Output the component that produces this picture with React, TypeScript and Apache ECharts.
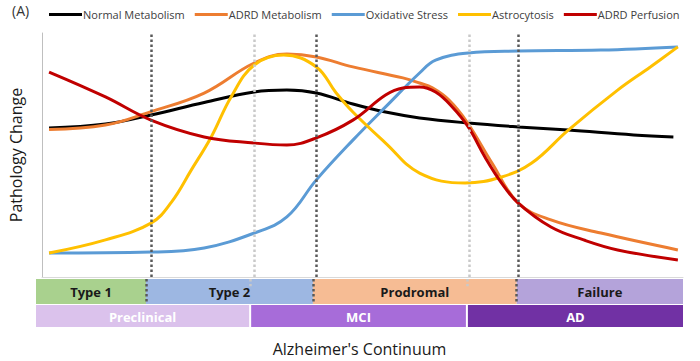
import React, { useEffect, useRef } from "react";
import * as echarts from "echarts";

// ---- Data (x: position along the continuum 0-100, y: pathology change 0-100) ----
const seriesNames = ["Normal Metabolism", "ADRD Metabolism", "Oxidative Stress", "Astrocytosis", "ADRD Perfusion"];
const seriesColors = ["#000000", "#ED7D31", "#5B9BD5", "#FFC000", "#C00000"];

const normalX = [1.1, 9.9, 17.0, 25.3, 33.1, 38.2, 42.8, 48.5, 53.6, 58.9, 66.5, 74.3, 82.1, 92.3, 98.5];
const normalY = [61.1, 62.7, 66.4, 71.5, 75.8, 76.6, 75.4, 70.9, 67.6, 65.2, 63.1, 61.5, 60.2, 58.2, 57.4];

const adrdMetX = [1.1, 9.9, 17.0, 25.3, 33.1, 38.2, 42.8, 48.5, 56.3, 58.9, 60.9, 63.5, 66.3, 70.2, 74.3, 79.4, 87.2, 99.2];
const adrdMetY = [60.5, 62.3, 67.8, 75.4, 87.7, 91.4, 90.2, 86.1, 81.6, 79.5, 77.5, 72.5, 63.5, 46.7, 30.3, 23.4, 18.0, 11.1];

const oxidX = [1.1, 17.0, 25.3, 33.1, 38.2, 42.8, 48.5, 53.6, 58.9, 61.4, 66.5, 74.3, 87.2, 99.2];
const oxidY = [9.8, 10.2, 11.9, 18.0, 24.6, 39.8, 56.1, 69.7, 83.6, 88.9, 91.8, 92.6, 93.0, 94.3];

const astroX = [1.1, 9.9, 17.0, 20.2, 23.3, 26.4, 29.5, 33.1, 37.7, 42.8, 45.9, 48.5, 53.6, 58.9, 66.0, 71.7, 76.4, 82.1, 89.8, 94.9, 99.2];
const astroY = [9.8, 15.2, 22.1, 30.7, 43.9, 57.4, 73.8, 86.9, 91.0, 86.1, 75.4, 67.6, 54.9, 42.6, 38.5, 41.0, 46.7, 60.2, 76.6, 86.1, 94.3];

const perfX = [1.1, 9.9, 17.0, 25.3, 33.1, 38.2, 42.8, 48.5, 53.6, 56.3, 58.9, 61.4, 64.0, 66.5, 69.1, 71.7, 74.3, 79.4, 84.5, 89.8, 99.2];
const perfY = [84.0, 73.8, 64.3, 57.4, 54.9, 54.1, 57.0, 64.3, 74.6, 77.5, 77.9, 75.8, 69.7, 61.5, 49.2, 38.5, 30.3, 20.5, 15.2, 11.1, 7.0];

const stageNames = ["Type 1", "Type 2", "Prodromal", "Failure"];
const stageBounds = [0, 17.0, 42.8, 74.3, 100];
const stageColors = ["#A9D18E", "#9DB7E2", "#F6BC94", "#B4A3DA"];

const clinicalNames = ["Preclinical", "MCI", "AD"];
const clinicalBounds = [0, 33.1, 66.6, 100];
const clinicalColors = ["#DBC2EC", "#A76CD9", "#7131A4"];

const xTitle = "Alzheimer's Continuum";
const yTitle = "Pathology Change";

const zip = (xs: number[], ys: number[]) => xs.map((x, i) => [x, ys[i]]);

export default function App() {
  const ref = useRef<HTMLDivElement>(null);
  useEffect(() => {
    if (!ref.current) return;
    const chart = echarts.init(ref.current, undefined, { renderer: "svg" });
    const font = "'Open Sans', sans-serif";

    const curves = [
      zip(normalX, normalY),
      zip(adrdMetX, adrdMetY),
      zip(oxidX, oxidY),
      zip(astroX, astroY),
      zip(perfX, perfY),
    ];

    // band data: [start, end, rowTop, rowBottom]
    const bandData: any[] = [];
    const bandMeta: { label: string; color: string; text: string; inset: number }[] = [];
    stageNames.forEach((n, i) => {
      bandData.push([stageBounds[i], stageBounds[i + 1], 0, 1.04]);
      bandMeta.push({ label: n, color: stageColors[i], text: "#1a1a1a", inset: 0 });
    });
    clinicalNames.forEach((n, i) => {
      bandData.push([clinicalBounds[i], clinicalBounds[i + 1], 1.08, 2]);
      bandMeta.push({ label: n, color: clinicalColors[i], text: "#ffffff", inset: 1 });
    });

    const darkLines = stageBounds.slice(1, -1);
    const lightLines = clinicalBounds.slice(1, -1);
    const darkStyle = { color: "#595959", width: 2.5, type: [2.5, 2.5] as any };
    const lightStyle = { color: "#c9c9c9", width: 2.5, type: [2.5, 2.5] as any };

    const option: any = {
      animation: false,
      textStyle: { fontFamily: font },
      legend: {
        top: 4,
        left: 44,
        icon: "rect",
        itemWidth: 33,
        itemHeight: 3,
        itemGap: 10,
        data: seriesNames,
        textStyle: { fontSize: 11, color: "#404040", fontFamily: font, padding: [0, 0, 0, -4] },
      },
      graphic: [
        {
          type: "text",
          left: 12,
          top: 3,
          style: { text: "(A)", fontSize: 14, fill: "#333", fontFamily: font },
        },
      ],
      grid: [
        { left: 36, right: 17, top: 33, height: 244 },
        { left: 36, right: 17, top: 279, height: 48 },
      ],
      xAxis: [
        {
          gridIndex: 0,
          type: "value",
          min: 0,
          max: 100,
          axisLine: { show: true, lineStyle: { color: "#d9d9d9", width: 1 } },
          axisTick: { show: false },
          axisLabel: { show: false },
          splitLine: { show: false },
        },
        {
          gridIndex: 1,
          type: "value",
          min: 0,
          max: 100,
          axisLine: { show: false },
          axisTick: { show: false },
          axisLabel: { show: false },
          splitLine: { show: false },
          name: xTitle,
          nameLocation: "middle",
          nameGap: 14,
          nameTextStyle: { fontSize: 16, color: "#1a1a1a", fontFamily: font },
        },
      ],
      yAxis: [
        {
          gridIndex: 0,
          type: "value",
          min: 0,
          max: 100,
          axisLine: { show: true, lineStyle: { color: "#bfbfbf", width: 1 } },
          axisTick: { show: false },
          axisLabel: { show: false },
          splitLine: { show: false },
          name: yTitle,
          nameLocation: "middle",
          nameGap: 18,
          nameTextStyle: { fontSize: 16, color: "#1a1a1a", fontFamily: font },
        },
        {
          gridIndex: 1,
          type: "value",
          min: 0,
          max: 2,
          inverse: true,
          axisLine: { show: false },
          axisTick: { show: false },
          axisLabel: { show: false },
          splitLine: { show: false },
        },
      ],
      series: [
        {
          type: "line",
          xAxisIndex: 0,
          yAxisIndex: 0,
          data: [],
          silent: true,
          z: 1,
          markLine: {
            silent: true,
            symbol: ["none", "none"],
            label: { show: false },
            data: [
              ...darkLines.map((v) => ({ xAxis: v, lineStyle: darkStyle })),
              ...lightLines.map((v) => ({ xAxis: v, lineStyle: lightStyle })),
            ],
          },
        },
        ...seriesNames.map((name, i) => ({
          name,
          type: "line",
          xAxisIndex: 0,
          yAxisIndex: 0,
          data: curves[i],
          smooth: 0.4,
          symbol: "none",
          z: 3,
          lineStyle: { color: seriesColors[i], width: 3 },
          itemStyle: { color: seriesColors[i] },
        })),
        {
          type: "custom",
          xAxisIndex: 1,
          yAxisIndex: 1,
          data: bandData,
          silent: true,
          z: 2,
          renderItem: (params: any, api: any) => {
            const meta = bandMeta[params.dataIndex];
            const s = api.coord([api.value(0), api.value(2)]);
            const e = api.coord([api.value(1), api.value(3)]);
            const x0 = s[0] + (api.value(0) > 0 ? meta.inset : 0);
            const x1 = e[0] - (api.value(1) < 100 ? meta.inset : 0);
            return {
              type: "group",
              children: [
                {
                  type: "rect",
                  shape: { x: x0, y: s[1], width: x1 - x0, height: e[1] - s[1] },
                  style: { fill: meta.color },
                },
                {
                  type: "text",
                  style: {
                    text: meta.label,
                    x: (x0 + x1) / 2,
                    y: (s[1] + e[1]) / 2 + 1,
                    align: "center",
                    verticalAlign: "middle",
                    fill: meta.text,
                    fontSize: 13,
                    fontWeight: "bold",
                    fontFamily: font,
                  },
                },
              ],
            };
          },
          markLine: {
            silent: true,
            symbol: ["none", "none"],
            label: { show: false },
            data: [
              ...darkLines.map((v) => [
                { coord: [v, 0], lineStyle: darkStyle },
                { coord: [v, 1.04] },
              ]),
              ...lightLines.map((v) => [
                { coord: [v, 0], lineStyle: lightStyle },
                { coord: [v, 0.3] },
              ]),
            ],
          },
        },
      ],
    };
    chart.setOption(option);
    return () => chart.dispose();
  }, []);
  return <div ref={ref} style={{ position: "absolute", left: 0, top: 0, width: 700, height: 361 }} />;
}
